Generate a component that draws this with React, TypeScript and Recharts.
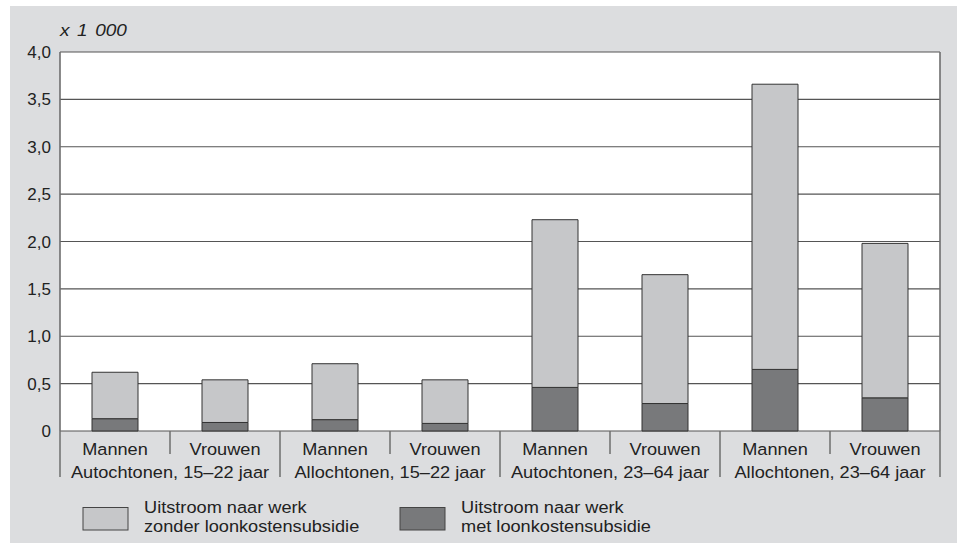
import { BarChart, Bar, XAxis, YAxis, CartesianGrid } from 'recharts';

const groups = [
  'Autochtonen, 15–22 jaar',
  'Allochtonen, 15–22 jaar',
  'Autochtonen, 23–64 jaar',
  'Allochtonen, 23–64 jaar',
];
const sexes = ['Mannen', 'Vrouwen'];

// x 1 000 (bottom part = met subsidie)
const metSubsidie = [0.13, 0.09, 0.12, 0.08, 0.46, 0.29, 0.65, 0.35];
const zonderSubsidie = [0.49, 0.45, 0.59, 0.46, 1.77, 1.36, 3.01, 1.63];

const yTicks = [0, 0.5, 1, 1.5, 2, 2.5, 3, 3.5, 4];
const unitLabel = 'x 1 000';
const legendZonder = ['Uitstroom naar werk', 'zonder loonkostensubsidie'];
const legendMet = ['Uitstroom naar werk', 'met loonkostensubsidie'];

const FONT = '"Liberation Sans", Arial, Helvetica, sans-serif';
const W = 957;
const H = 543;
const PLOT_LEFT = 60;
const PLOT_RIGHT = 940;
const BAND = (PLOT_RIGHT - PLOT_LEFT) / (groups.length * sexes.length);

const LIGHT = '#c6c7c9';
const DARK = '#78797b';
const BG = '#dcdddf';
const TEXT = '#222';
const LINE = '#6e6e6e';

const data = groups.flatMap((group, gi) =>
  sexes.map((sex, si) => ({
    key: `${gi}-${si}`,
    group,
    sex,
    met: metSubsidie[gi * sexes.length + si],
    zonder: zonderSubsidie[gi * sexes.length + si],
  }))
);

const fmt = (v: number) => (v === 0 ? '0' : v.toFixed(1).replace('.', ','));

// two-level category labels with separators
const XTick = (props: any) => {
  const { x, y, index } = props;
  const d = data[index];
  if (!d) return null;
  const half = BAND / 2;
  const lastInGroup = index % sexes.length === sexes.length - 1;
  return (
    <g>
      {index === 0 && (
        <line x1={x - half} x2={x - half} y1={y} y2={y + 46} stroke={LINE} strokeWidth={1.5} />
      )}
      <line
        x1={x + half}
        x2={x + half}
        y1={y}
        y2={y + (lastInGroup ? 46 : 23)}
        stroke={LINE}
        strokeWidth={1.5}
      />
      <text
        transform={`translate(${x},${y + 24}) scale(1.07,1)`}
        textAnchor="middle"
        fontSize={17}
        fill={TEXT}
        fontFamily={FONT}
      >
        {d.sex}
      </text>
      {lastInGroup && (
        <text
          transform={`translate(${x - half * (sexes.length - 1)},${y + 47}) scale(1.07,1)`}
          textAnchor="middle"
          fontSize={17}
          fill={TEXT}
          fontFamily={FONT}
        >
          {d.group}
        </text>
      )}
    </g>
  );
};

const LegendItem = ({ x, fill, lines }: { x: number; fill: string; lines: string[] }) => (
  <g>
    <rect x={x} y={507.5} width={45} height={22.5} fill={fill} stroke="#444" strokeWidth={1} />
    {lines.map((t, i) => (
      <text
        key={i}
        transform={`translate(${x + 61},${513 + i * 19}) scale(1.07,1)`}
        fontSize={17}
        fill={TEXT}
        fontFamily={FONT}
      >
        {t}
      </text>
    ))}
  </g>
);

export default function App() {
  return (
    <div style={{ position: 'absolute', left: 0, top: 0, width: W, height: H, overflow: 'hidden', fontFamily: FONT }}>
      <div style={{ position: 'absolute', left: 10, top: 6, width: W - 10, height: H - 6, background: BG }} />
      <div style={{ position: 'absolute', left: 0, top: 0 }}>
        <BarChart
          width={W}
          height={H}
          data={data}
          margin={{ top: 52, right: W - PLOT_RIGHT, bottom: 62, left: 0 }}
        >
          <CartesianGrid vertical={false} stroke="#555" strokeWidth={1.2} fill="#fff" fillOpacity={1} />
          <CartesianGrid
            horizontal={false}
            verticalPoints={[PLOT_LEFT, PLOT_RIGHT]}
            stroke={LINE}
            strokeWidth={1.6}
          />
          <XAxis
            dataKey="key"
            height={50}
            interval={0}
            axisLine={false}
            tickLine={false}
            tickSize={0}
            tickMargin={0}
            tick={<XTick />}
          />
          <YAxis
            width={PLOT_LEFT}
            domain={[0, 4]}
            ticks={yTicks}
            tickFormatter={fmt}
            axisLine={false}
            tickLine={false}
            tickSize={0}
            tickMargin={9}
            tick={{ fontSize: 17, fill: TEXT, fontFamily: FONT }}
          />
          <Bar dataKey="met" stackId="a" fill={DARK} stroke="#333" strokeWidth={1} barSize={46} isAnimationActive={false} />
          <Bar dataKey="zonder" stackId="a" fill={LIGHT} stroke="#333" strokeWidth={1} barSize={46} isAnimationActive={false} />
        </BarChart>
      </div>
      <svg width={W} height={H} style={{ position: 'absolute', left: 0, top: 0, pointerEvents: 'none' }}>
        <text
          transform="translate(60,36) scale(1.12,1)"
          fontSize={17}
          fontStyle="italic"
          wordSpacing={2}
          fill={TEXT}
          fontFamily={FONT}
        >
          {unitLabel}
        </text>
        <LegendItem x={83} fill={LIGHT} lines={legendZonder} />
        <LegendItem x={400} fill={DARK} lines={legendMet} />
      </svg>
    </div>
  );
}
